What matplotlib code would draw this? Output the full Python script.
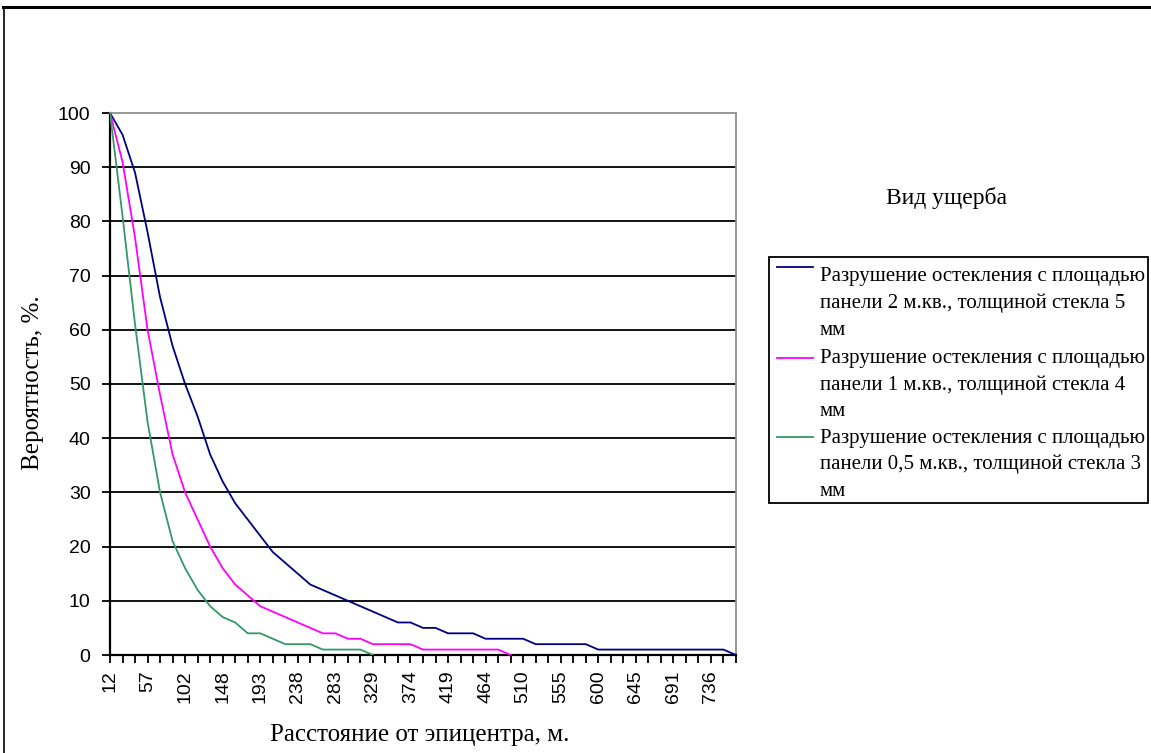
import matplotlib
matplotlib.use('Agg')
import matplotlib.pyplot as plt
from matplotlib.lines import Line2D
from matplotlib.patches import Rectangle

# distance categories (every 3rd one is labelled)
n_cat = 51
tick_labels = ['12', '57', '102', '148', '193', '238', '283', '329', '374',
               '419', '464', '510', '555', '600', '645', '691', '736']

# probability, %
glass_2m = [100, 96, 89, 78, 66, 57, 50, 44, 37, 32, 28, 25, 22, 19, 17, 15,
            13, 12, 11, 10, 9, 8, 7, 6, 6, 5, 5, 4, 4, 4, 3, 3, 3, 3, 2, 2,
            2, 2, 2, 1, 1, 1, 1, 1, 1, 1, 1, 1, 1, 1, 0]
glass_1m = [100, 91, 77, 60, 48, 37, 30, 25, 20, 16, 13, 11, 9, 8, 7, 6, 5,
            4, 4, 3, 3, 2, 2, 2, 2, 1, 1, 1, 1, 1, 1, 1, 0]
glass_05m = [100, 81, 61, 43, 30, 21, 16, 12, 9, 7, 6, 4, 4, 3, 2, 2, 2, 1,
             1, 1, 1, 0]

series = [glass_2m, glass_1m, glass_05m]
colors = ['#000080', '#ff00ff', '#339966']
labels = ['Разрушение остекления с площадью\nпанели 2 м.кв., толщиной стекла 5\nмм',
          'Разрушение остекления с площадью\nпанели 1 м.кв., толщиной стекла 4\nмм',
          'Разрушение остекления с площадью\nпанели 0,5 м.кв., толщиной стекла 3\nмм']

W, H = 1151, 753


def fx(x):
    return x / W


def fy(y):
    return 1 - y / H


narrow = ['Liberation Sans Narrow', 'Liberation Sans', 'DejaVu Sans']
sans = ['Liberation Sans', 'DejaVu Sans']
serif = ['Liberation Serif', 'DejaVu Serif']

fig = plt.figure(figsize=(W / 100, H / 100), dpi=100)
ax = fig.add_axes([fx(110), fy(655), fx(736) - fx(110), fy(113) - fy(655)])

for vals, c in zip(series, colors):
    ax.plot(range(len(vals)), vals, color=c, lw=1.3, zorder=3)

ax.set_xlim(0, n_cat - 1)
ax.set_ylim(0, 100)

ax.set_yticks(range(0, 101, 10))
ax.set_yticklabels([str(v) for v in range(0, 101, 10)], family=narrow, fontsize=14)
ax.set_xticks(range(0, n_cat - 1, 3))
ax.set_xticklabels(tick_labels, rotation=90, family=sans, fontsize=14)
ax.set_xticks(range(n_cat), minor=True)
ax.tick_params(axis='both', which='both', direction='out', length=6,
               width=1.3, color='black')
ax.tick_params(axis='y', pad=8)
ax.tick_params(axis='x', pad=5)

for v in range(10, 100, 10):
    ax.axhline(v, color='black', lw=1.3, zorder=1)

ax.spines['left'].set_linewidth(1.6)
ax.spines['bottom'].set_linewidth(1.6)
for s in ['top', 'right']:
    ax.spines[s].set_color('#909090')
    ax.spines[s].set_linewidth(1.3)

fig.text(fx(420), fy(735), 'Расстояние от эпицентра, м.', family=serif,
         fontsize=18, ha='center', va='center')
fig.text(fx(33), fy(383), 'Вероятность, %.', family=serif, fontsize=18,
         rotation=90, ha='center', va='center')

# legend
fig.text(fx(946), fy(198), 'Вид ущерба', family=serif, fontsize=17,
         ha='center', va='center')
fig.patches.append(Rectangle((fx(769), fy(503)), fx(1148) - fx(769),
                             fy(257) - fy(503), transform=fig.transFigure,
                             fill=False, ec='black', lw=1.3))
entry_y = [277, 359, 438]
handle_y = [267, 358, 437]
for lab, c, ey, hy in zip(labels, colors, entry_y, handle_y):
    fig.lines.append(Line2D([fx(777), fx(813)], [fy(hy), fy(hy)],
                            transform=fig.transFigure, color=c, lw=1.3))
    for k, line in enumerate(lab.split('\n')):
        fig.text(fx(820), fy(ey + k * 26.5), line, family=serif, fontsize=15,
                 ha='left', va='center')

# outer frame of the picture
fig.lines.append(Line2D([fx(3), fx(1151)], [fy(7), fy(7)],
                        transform=fig.transFigure, color='black', lw=2.2))
fig.lines.append(Line2D([fx(4), fx(4)], [fy(7), fy(753)],
                        transform=fig.transFigure, color='black', lw=1.2))

fig.savefig('out.png', dpi=100)
